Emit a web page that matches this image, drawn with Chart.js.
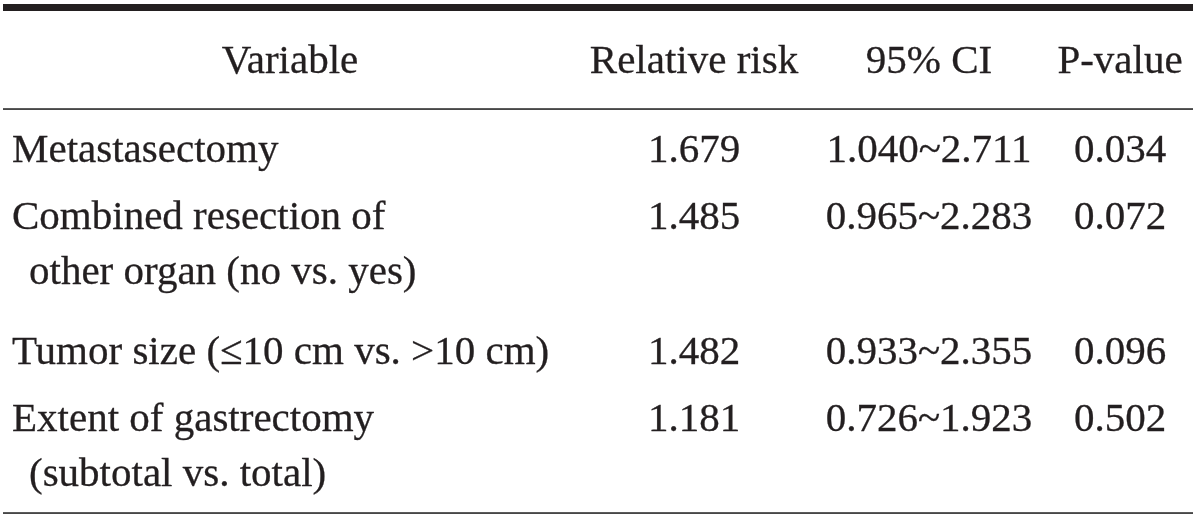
<!DOCTYPE html>
<html>
<head>
<meta charset="utf-8">
<script src="https://cdn.jsdelivr.net/npm/chart.js@4/dist/chart.umd.min.js"></script>
<style>
  html, body { margin: 0; padding: 0; background: #ffffff; }
  #wrap { width: 1200px; height: 526px; position: relative; }
</style>
</head>
<body>
<div id="wrap"><canvas id="c"></canvas></div>
<script>
// ---- Table content ----
const headers = ["Variable", "Relative risk", "95% CI", "P-value"];
const variables = [
  ["Metastasectomy"],
  ["Combined resection of", "other organ (no vs. yes)"],
  ["Tumor size (\u226410 cm vs. >10 cm)"],
  ["Extent of gastrectomy", "(subtotal vs. total)"]
];
const relativeRisk = [1.679, 1.485, 1.482, 1.181];
const ciLower = [1.040, 0.965, 0.933, 0.726];
const ciUpper = [2.711, 2.283, 2.355, 1.923];
const pValues = [0.034, 0.072, 0.096, 0.502];

// ---- Layout (styles only) ----
const FONT = '41px "Liberation Serif", "Times New Roman", serif';
const INK = '#231f20';
const colCenters = [290, 694, 929, 1120];
const firstColLeft = 12;
const contLeft = 29;
const headerBaseline = 73;
const rowBaselines = [162, 229, 364, 431];
const lineGap = 55;
const ruleTop = { y0: 4, y1: 11 };
const ruleHeader = 109;
const ruleBottom = 513;
const ruleX0 = 3, ruleX1 = 1193;

const tablePlugin = {
  id: 'tableDraw',
  afterDraw(chart) {
    const ctx = chart.ctx;
    const xs = chart.scales.x, ys = chart.scales.y;
    const X = v => xs.getPixelForValue(v);
    const Y = v => ys.getPixelForValue(v);
    const put = (t, x, y) => { ctx.fillText(t, x, y); ctx.strokeText(t, x, y); };
    ctx.save();
    // rules
    ctx.fillStyle = INK;
    ctx.fillRect(X(ruleX0), Y(ruleTop.y0), X(ruleX1) - X(ruleX0), Y(ruleTop.y1) - Y(ruleTop.y0));
    ctx.fillStyle = '#333333';
    ctx.fillRect(X(ruleX0), Y(ruleHeader) - 0.8, X(ruleX1) - X(ruleX0), 1.7);
    ctx.fillRect(X(ruleX0), Y(ruleBottom) - 0.8, X(ruleX1) - X(ruleX0), 1.7);

    ctx.fillStyle = INK;
    ctx.strokeStyle = INK;
    ctx.lineWidth = 0.3;
    ctx.font = FONT;
    ctx.textBaseline = 'alphabetic';
    // header
    ctx.textAlign = 'center';
    headers.forEach((h, i) => put(h, X(colCenters[i]), Y(headerBaseline)));
    // body
    variables.forEach((lines, r) => {
      const yb = rowBaselines[r];
      ctx.textAlign = 'left';
      lines.forEach((ln, k) => {
        put(ln, X(k > 0 ? contLeft : firstColLeft), Y(yb + k * lineGap));
      });
      ctx.textAlign = 'center';
      put(relativeRisk[r].toFixed(3), X(colCenters[1]), Y(yb));
      put(ciLower[r].toFixed(3) + '~' + ciUpper[r].toFixed(3), X(colCenters[2]), Y(yb));
      put(pValues[r].toFixed(3), X(colCenters[3]), Y(yb));
    });
    ctx.restore();
  }
};

new Chart(document.getElementById('c'), {
  type: 'scatter',
  data: { datasets: [{ data: [], pointRadius: 0 }] },
  options: {
    responsive: true,
    maintainAspectRatio: false,
    animation: false,
    events: [],
    layout: { padding: 0 },
    plugins: { legend: { display: false }, tooltip: { enabled: false }, title: { display: false } },
    scales: {
      x: { type: 'linear', min: 0, max: 1200, display: false },
      y: { type: 'linear', min: 0, max: 526, reverse: true, display: false }
    }
  },
  plugins: [tablePlugin]
});
</script>
</body>
</html>
